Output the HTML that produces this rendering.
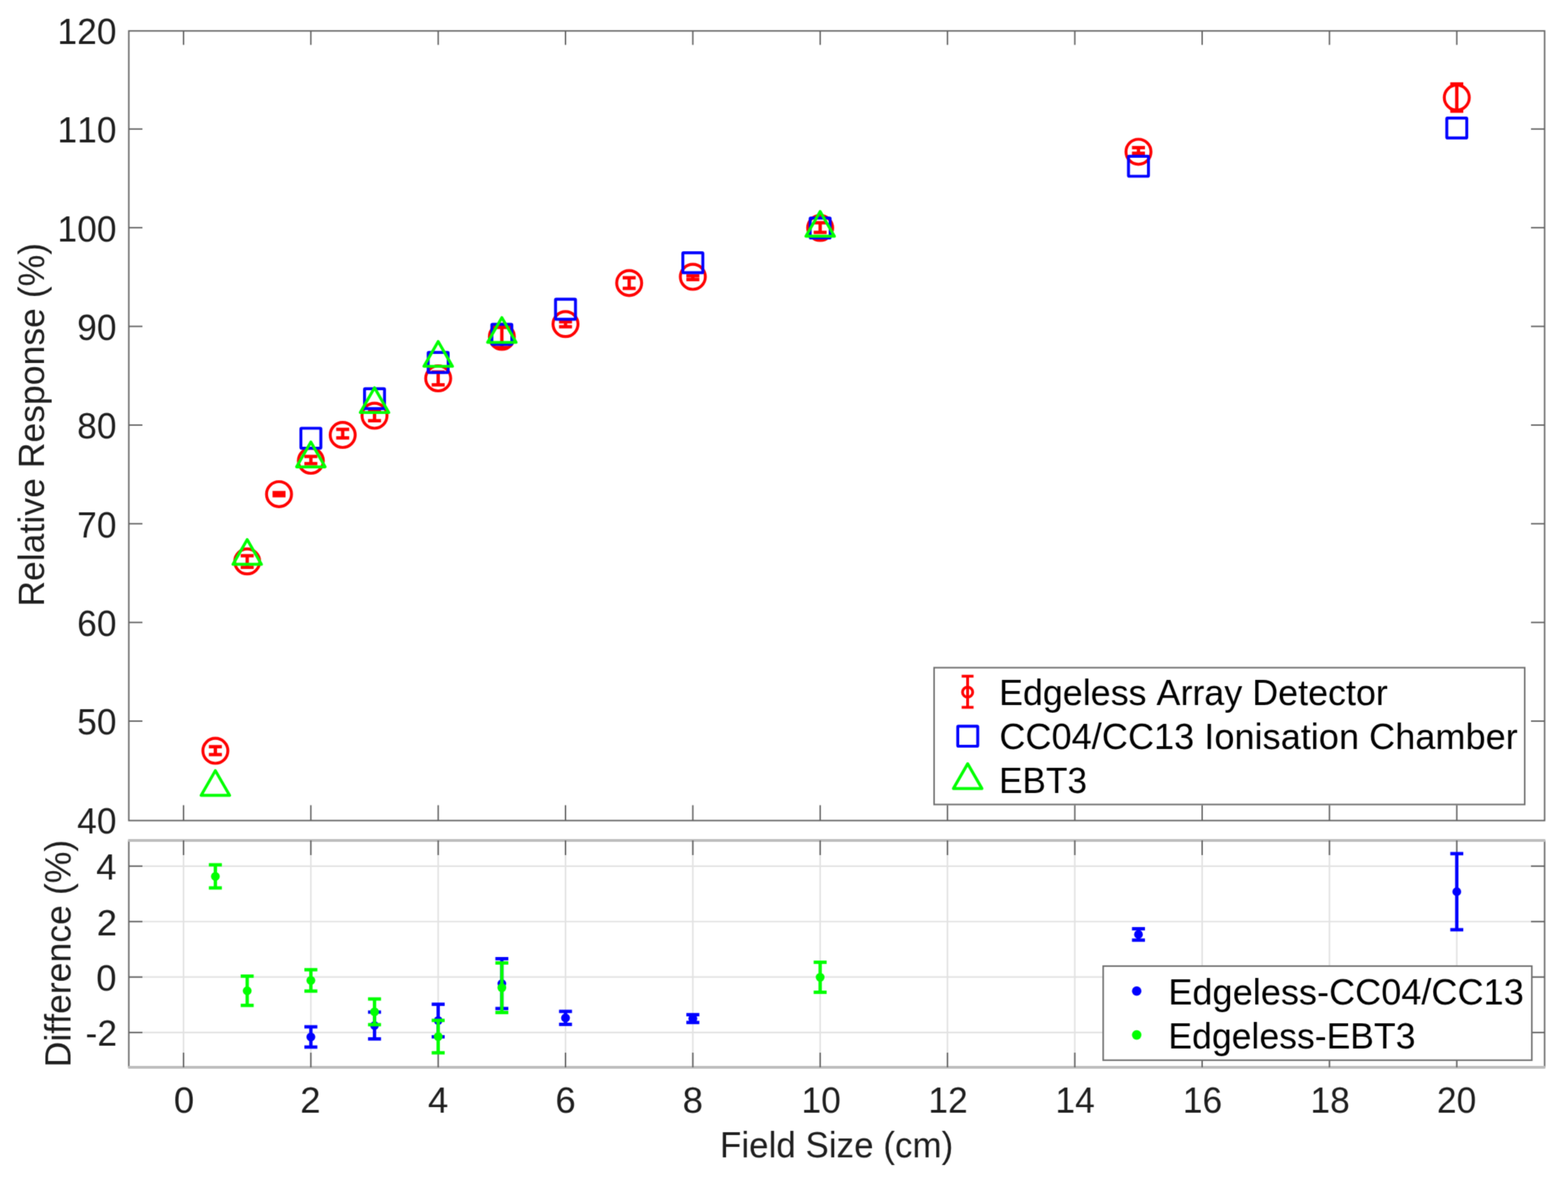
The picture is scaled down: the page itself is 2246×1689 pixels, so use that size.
<!DOCTYPE html>
<html lang="en">
<head>
<meta charset="utf-8">
<title>Relative Response vs Field Size</title>
<style>
html,body{margin:0;padding:0;background:#ffffff;}
body{width:2246px;height:1689px;overflow:hidden;}
svg{display:block;font-family:"Liberation Sans",sans-serif;font-kerning:none;}
text{font-kerning:none;white-space:pre;}
</style>
</head>
<body>
<svg width="2246" height="1689" viewBox="0 0 2246 1689">
<defs><filter id="soft" filterUnits="userSpaceOnUse" x="0" y="0" width="2246" height="1689" color-interpolation-filters="sRGB"><feConvolveMatrix order="3" kernelMatrix="0.02890 0.11220 0.02890 0.11220 0.43560 0.11220 0.02890 0.11220 0.02890" edgeMode="duplicate" preserveAlpha="true"/></filter></defs>
<g id="chart" filter="url(#soft)">
<rect x="-2" y="-2" width="2250" height="1693" fill="#ffffff"/>
<g id="lower-grid">
<line x1="262.90" y1="1204.00" x2="262.90" y2="1529.00" stroke="#e2e2e2" stroke-width="2.2" />
<line x1="445.28" y1="1204.00" x2="445.28" y2="1529.00" stroke="#e2e2e2" stroke-width="2.2" />
<line x1="627.66" y1="1204.00" x2="627.66" y2="1529.00" stroke="#e2e2e2" stroke-width="2.2" />
<line x1="810.04" y1="1204.00" x2="810.04" y2="1529.00" stroke="#e2e2e2" stroke-width="2.2" />
<line x1="992.42" y1="1204.00" x2="992.42" y2="1529.00" stroke="#e2e2e2" stroke-width="2.2" />
<line x1="1174.80" y1="1204.00" x2="1174.80" y2="1529.00" stroke="#e2e2e2" stroke-width="2.2" />
<line x1="1357.18" y1="1204.00" x2="1357.18" y2="1529.00" stroke="#e2e2e2" stroke-width="2.2" />
<line x1="1539.56" y1="1204.00" x2="1539.56" y2="1529.00" stroke="#e2e2e2" stroke-width="2.2" />
<line x1="1721.94" y1="1204.00" x2="1721.94" y2="1529.00" stroke="#e2e2e2" stroke-width="2.2" />
<line x1="1904.32" y1="1204.00" x2="1904.32" y2="1529.00" stroke="#e2e2e2" stroke-width="2.2" />
<line x1="2086.70" y1="1204.00" x2="2086.70" y2="1529.00" stroke="#e2e2e2" stroke-width="2.2" />
<line x1="184.50" y1="1240.78" x2="2212.50" y2="1240.78" stroke="#e2e2e2" stroke-width="2.2" />
<line x1="184.50" y1="1320.24" x2="2212.50" y2="1320.24" stroke="#e2e2e2" stroke-width="2.2" />
<line x1="184.50" y1="1399.70" x2="2212.50" y2="1399.70" stroke="#e2e2e2" stroke-width="2.2" />
<line x1="184.50" y1="1479.16" x2="2212.50" y2="1479.16" stroke="#e2e2e2" stroke-width="2.2" />
</g>
<g id="upper-axes">
<rect x="184.5" y="44.3" width="2028.0" height="1131.2" fill="none" stroke="#606060" stroke-width="2.0"/>
<line x1="262.90" y1="44.30" x2="262.90" y2="64.30" stroke="#606060" stroke-width="2.0" />
<line x1="262.90" y1="1175.50" x2="262.90" y2="1153.50" stroke="#606060" stroke-width="2.0" />
<line x1="445.28" y1="44.30" x2="445.28" y2="64.30" stroke="#606060" stroke-width="2.0" />
<line x1="445.28" y1="1175.50" x2="445.28" y2="1153.50" stroke="#606060" stroke-width="2.0" />
<line x1="627.66" y1="44.30" x2="627.66" y2="64.30" stroke="#606060" stroke-width="2.0" />
<line x1="627.66" y1="1175.50" x2="627.66" y2="1153.50" stroke="#606060" stroke-width="2.0" />
<line x1="810.04" y1="44.30" x2="810.04" y2="64.30" stroke="#606060" stroke-width="2.0" />
<line x1="810.04" y1="1175.50" x2="810.04" y2="1153.50" stroke="#606060" stroke-width="2.0" />
<line x1="992.42" y1="44.30" x2="992.42" y2="64.30" stroke="#606060" stroke-width="2.0" />
<line x1="992.42" y1="1175.50" x2="992.42" y2="1153.50" stroke="#606060" stroke-width="2.0" />
<line x1="1174.80" y1="44.30" x2="1174.80" y2="64.30" stroke="#606060" stroke-width="2.0" />
<line x1="1174.80" y1="1175.50" x2="1174.80" y2="1153.50" stroke="#606060" stroke-width="2.0" />
<line x1="1357.18" y1="44.30" x2="1357.18" y2="64.30" stroke="#606060" stroke-width="2.0" />
<line x1="1357.18" y1="1175.50" x2="1357.18" y2="1153.50" stroke="#606060" stroke-width="2.0" />
<line x1="1539.56" y1="44.30" x2="1539.56" y2="64.30" stroke="#606060" stroke-width="2.0" />
<line x1="1539.56" y1="1175.50" x2="1539.56" y2="1153.50" stroke="#606060" stroke-width="2.0" />
<line x1="1721.94" y1="44.30" x2="1721.94" y2="64.30" stroke="#606060" stroke-width="2.0" />
<line x1="1721.94" y1="1175.50" x2="1721.94" y2="1153.50" stroke="#606060" stroke-width="2.0" />
<line x1="1904.32" y1="44.30" x2="1904.32" y2="64.30" stroke="#606060" stroke-width="2.0" />
<line x1="1904.32" y1="1175.50" x2="1904.32" y2="1153.50" stroke="#606060" stroke-width="2.0" />
<line x1="2086.70" y1="44.30" x2="2086.70" y2="64.30" stroke="#606060" stroke-width="2.0" />
<line x1="2086.70" y1="1175.50" x2="2086.70" y2="1153.50" stroke="#606060" stroke-width="2.0" />
<line x1="184.50" y1="1033.05" x2="204.00" y2="1033.05" stroke="#606060" stroke-width="2.0" />
<line x1="2212.50" y1="1033.05" x2="2193.00" y2="1033.05" stroke="#606060" stroke-width="2.0" />
<line x1="184.50" y1="891.68" x2="204.00" y2="891.68" stroke="#606060" stroke-width="2.0" />
<line x1="2212.50" y1="891.68" x2="2193.00" y2="891.68" stroke="#606060" stroke-width="2.0" />
<line x1="184.50" y1="750.31" x2="204.00" y2="750.31" stroke="#606060" stroke-width="2.0" />
<line x1="2212.50" y1="750.31" x2="2193.00" y2="750.31" stroke="#606060" stroke-width="2.0" />
<line x1="184.50" y1="608.94" x2="204.00" y2="608.94" stroke="#606060" stroke-width="2.0" />
<line x1="2212.50" y1="608.94" x2="2193.00" y2="608.94" stroke="#606060" stroke-width="2.0" />
<line x1="184.50" y1="467.57" x2="204.00" y2="467.57" stroke="#606060" stroke-width="2.0" />
<line x1="2212.50" y1="467.57" x2="2193.00" y2="467.57" stroke="#606060" stroke-width="2.0" />
<line x1="184.50" y1="326.20" x2="204.00" y2="326.20" stroke="#606060" stroke-width="2.0" />
<line x1="2212.50" y1="326.20" x2="2193.00" y2="326.20" stroke="#606060" stroke-width="2.0" />
<line x1="184.50" y1="184.83" x2="204.00" y2="184.83" stroke="#606060" stroke-width="2.0" />
<line x1="2212.50" y1="184.83" x2="2193.00" y2="184.83" stroke="#606060" stroke-width="2.0" />
</g>
<g id="lower-axes">
<line x1="184.50" y1="1204.00" x2="184.50" y2="1529.00" stroke="#606060" stroke-width="2.0" />
<line x1="2212.50" y1="1204.00" x2="2212.50" y2="1529.00" stroke="#606060" stroke-width="2.0" />
<line x1="183.50" y1="1204.00" x2="2213.50" y2="1204.00" stroke="#bdbdbd" stroke-width="4.0" />
<line x1="183.50" y1="1529.00" x2="2213.50" y2="1529.00" stroke="#bdbdbd" stroke-width="4.0" />
<line x1="262.90" y1="1204.00" x2="262.90" y2="1225.00" stroke="#606060" stroke-width="2.0" />
<line x1="262.90" y1="1529.00" x2="262.90" y2="1508.00" stroke="#606060" stroke-width="2.0" />
<line x1="445.28" y1="1204.00" x2="445.28" y2="1225.00" stroke="#606060" stroke-width="2.0" />
<line x1="445.28" y1="1529.00" x2="445.28" y2="1508.00" stroke="#606060" stroke-width="2.0" />
<line x1="627.66" y1="1204.00" x2="627.66" y2="1225.00" stroke="#606060" stroke-width="2.0" />
<line x1="627.66" y1="1529.00" x2="627.66" y2="1508.00" stroke="#606060" stroke-width="2.0" />
<line x1="810.04" y1="1204.00" x2="810.04" y2="1225.00" stroke="#606060" stroke-width="2.0" />
<line x1="810.04" y1="1529.00" x2="810.04" y2="1508.00" stroke="#606060" stroke-width="2.0" />
<line x1="992.42" y1="1204.00" x2="992.42" y2="1225.00" stroke="#606060" stroke-width="2.0" />
<line x1="992.42" y1="1529.00" x2="992.42" y2="1508.00" stroke="#606060" stroke-width="2.0" />
<line x1="1174.80" y1="1204.00" x2="1174.80" y2="1225.00" stroke="#606060" stroke-width="2.0" />
<line x1="1174.80" y1="1529.00" x2="1174.80" y2="1508.00" stroke="#606060" stroke-width="2.0" />
<line x1="1357.18" y1="1204.00" x2="1357.18" y2="1225.00" stroke="#606060" stroke-width="2.0" />
<line x1="1357.18" y1="1529.00" x2="1357.18" y2="1508.00" stroke="#606060" stroke-width="2.0" />
<line x1="1539.56" y1="1204.00" x2="1539.56" y2="1225.00" stroke="#606060" stroke-width="2.0" />
<line x1="1539.56" y1="1529.00" x2="1539.56" y2="1508.00" stroke="#606060" stroke-width="2.0" />
<line x1="1721.94" y1="1204.00" x2="1721.94" y2="1225.00" stroke="#606060" stroke-width="2.0" />
<line x1="1721.94" y1="1529.00" x2="1721.94" y2="1508.00" stroke="#606060" stroke-width="2.0" />
<line x1="1904.32" y1="1204.00" x2="1904.32" y2="1225.00" stroke="#606060" stroke-width="2.0" />
<line x1="1904.32" y1="1529.00" x2="1904.32" y2="1508.00" stroke="#606060" stroke-width="2.0" />
<line x1="2086.70" y1="1204.00" x2="2086.70" y2="1225.00" stroke="#606060" stroke-width="2.0" />
<line x1="2086.70" y1="1529.00" x2="2086.70" y2="1508.00" stroke="#606060" stroke-width="2.0" />
<line x1="184.50" y1="1240.78" x2="204.00" y2="1240.78" stroke="#606060" stroke-width="2.0" />
<line x1="2212.50" y1="1240.78" x2="2193.00" y2="1240.78" stroke="#606060" stroke-width="2.0" />
<line x1="184.50" y1="1320.24" x2="204.00" y2="1320.24" stroke="#606060" stroke-width="2.0" />
<line x1="2212.50" y1="1320.24" x2="2193.00" y2="1320.24" stroke="#606060" stroke-width="2.0" />
<line x1="184.50" y1="1399.70" x2="204.00" y2="1399.70" stroke="#606060" stroke-width="2.0" />
<line x1="2212.50" y1="1399.70" x2="2193.00" y2="1399.70" stroke="#606060" stroke-width="2.0" />
<line x1="184.50" y1="1479.16" x2="204.00" y2="1479.16" stroke="#606060" stroke-width="2.0" />
<line x1="2212.50" y1="1479.16" x2="2193.00" y2="1479.16" stroke="#606060" stroke-width="2.0" />
</g>
<g id="tick-labels">
<text x="110.51" y="1193.72" font-size="52.5" textLength="56.35" lengthAdjust="spacingAndGlyphs" fill="#1e1e1e">40</text>
<text x="110.51" y="1052.35" font-size="52.5" textLength="56.35" lengthAdjust="spacingAndGlyphs" fill="#1e1e1e">50</text>
<text x="110.51" y="910.98" font-size="52.5" textLength="56.35" lengthAdjust="spacingAndGlyphs" fill="#1e1e1e">60</text>
<text x="110.51" y="769.61" font-size="52.5" textLength="56.35" lengthAdjust="spacingAndGlyphs" fill="#1e1e1e">70</text>
<text x="110.51" y="628.24" font-size="52.5" textLength="56.35" lengthAdjust="spacingAndGlyphs" fill="#1e1e1e">80</text>
<text x="110.51" y="486.87" font-size="52.5" textLength="56.35" lengthAdjust="spacingAndGlyphs" fill="#1e1e1e">90</text>
<text x="82.33" y="345.50" font-size="52.5" textLength="84.53" lengthAdjust="spacingAndGlyphs" fill="#1e1e1e">100</text>
<text x="82.33" y="204.13" font-size="52.5" textLength="84.53" lengthAdjust="spacingAndGlyphs" fill="#1e1e1e">110</text>
<text x="82.33" y="62.76" font-size="52.5" textLength="84.53" lengthAdjust="spacingAndGlyphs" fill="#1e1e1e">120</text>
<text x="137.71" y="1260.08" font-size="52.5" textLength="29.20" lengthAdjust="spacingAndGlyphs" fill="#1e1e1e">4</text>
<text x="138.53" y="1339.54" font-size="52.5" textLength="29.20" lengthAdjust="spacingAndGlyphs" fill="#1e1e1e">2</text>
<text x="137.71" y="1419.00" font-size="52.5" textLength="29.20" lengthAdjust="spacingAndGlyphs" fill="#1e1e1e">0</text>
<text x="122.61" y="1498.46" font-size="52.5" textLength="45.05" lengthAdjust="spacingAndGlyphs" fill="#1e1e1e">-2</text>
<text x="249.03" y="1593.80" font-size="52.5" textLength="29.20" lengthAdjust="spacingAndGlyphs" fill="#1e1e1e">0</text>
<text x="429.93" y="1593.80" font-size="52.5" textLength="29.20" lengthAdjust="spacingAndGlyphs" fill="#1e1e1e">2</text>
<text x="613.04" y="1593.80" font-size="52.5" textLength="29.20" lengthAdjust="spacingAndGlyphs" fill="#1e1e1e">4</text>
<text x="795.43" y="1593.80" font-size="52.5" textLength="29.20" lengthAdjust="spacingAndGlyphs" fill="#1e1e1e">6</text>
<text x="977.64" y="1593.80" font-size="52.5" textLength="29.20" lengthAdjust="spacingAndGlyphs" fill="#1e1e1e">8</text>
<text x="1147.97" y="1593.80" font-size="52.5" textLength="56.35" lengthAdjust="spacingAndGlyphs" fill="#1e1e1e">10</text>
<text x="1329.87" y="1593.80" font-size="52.5" textLength="56.35" lengthAdjust="spacingAndGlyphs" fill="#1e1e1e">12</text>
<text x="1511.87" y="1593.80" font-size="52.5" textLength="56.35" lengthAdjust="spacingAndGlyphs" fill="#1e1e1e">14</text>
<text x="1694.37" y="1593.80" font-size="52.5" textLength="56.35" lengthAdjust="spacingAndGlyphs" fill="#1e1e1e">16</text>
<text x="1877.07" y="1593.80" font-size="52.5" textLength="56.35" lengthAdjust="spacingAndGlyphs" fill="#1e1e1e">18</text>
<text x="2058.27" y="1593.80" font-size="52.5" textLength="56.35" lengthAdjust="spacingAndGlyphs" fill="#1e1e1e">20</text>
</g>
<g id="axis-labels">
<text x="1031.29" y="1658.00" font-size="52.5" textLength="334.11" lengthAdjust="spacingAndGlyphs" fill="#1e1e1e">Field Size (cm)</text>
<text transform="translate(63.30,869.08) rotate(-90)" font-size="52.5" textLength="521.02" lengthAdjust="spacingAndGlyphs" fill="#1e1e1e">Relative Response (%)</text>
<text transform="translate(100.60,1529.09) rotate(-90)" font-size="52.5" textLength="326.13" lengthAdjust="spacingAndGlyphs" fill="#1e1e1e">Difference (%)</text>
</g>
<g id="upper-data">
<line x1="308.50" y1="1069.70" x2="308.50" y2="1081.00" stroke="#ff0000" stroke-width="4.8" />
<line x1="299.19" y1="1069.70" x2="317.80" y2="1069.70" stroke="#ff0000" stroke-width="4.8" />
<line x1="299.19" y1="1081.00" x2="317.80" y2="1081.00" stroke="#ff0000" stroke-width="4.8" />
<circle cx="308.50" cy="1075.60" r="17.9" fill="none" stroke="#ff0000" stroke-width="4.2"/>
<line x1="354.09" y1="796.10" x2="354.09" y2="812.70" stroke="#ff0000" stroke-width="4.8" />
<line x1="344.79" y1="796.10" x2="363.39" y2="796.10" stroke="#ff0000" stroke-width="4.8" />
<line x1="344.79" y1="812.70" x2="363.39" y2="812.70" stroke="#ff0000" stroke-width="4.8" />
<circle cx="354.09" cy="804.30" r="17.9" fill="none" stroke="#ff0000" stroke-width="4.2"/>
<line x1="399.68" y1="705.70" x2="399.68" y2="710.10" stroke="#ff0000" stroke-width="4.8" />
<line x1="390.38" y1="705.70" x2="408.98" y2="705.70" stroke="#ff0000" stroke-width="4.8" />
<line x1="390.38" y1="710.10" x2="408.98" y2="710.10" stroke="#ff0000" stroke-width="4.8" />
<circle cx="399.68" cy="707.90" r="17.9" fill="none" stroke="#ff0000" stroke-width="4.2"/>
<line x1="445.28" y1="653.90" x2="445.28" y2="664.20" stroke="#ff0000" stroke-width="4.8" />
<line x1="435.98" y1="653.90" x2="454.58" y2="653.90" stroke="#ff0000" stroke-width="4.8" />
<line x1="435.98" y1="664.20" x2="454.58" y2="664.20" stroke="#ff0000" stroke-width="4.8" />
<circle cx="445.28" cy="660.10" r="17.9" fill="none" stroke="#ff0000" stroke-width="4.2"/>
<line x1="490.88" y1="615.10" x2="490.88" y2="627.30" stroke="#ff0000" stroke-width="4.8" />
<line x1="481.57" y1="615.10" x2="500.18" y2="615.10" stroke="#ff0000" stroke-width="4.8" />
<line x1="481.57" y1="627.30" x2="500.18" y2="627.30" stroke="#ff0000" stroke-width="4.8" />
<circle cx="490.88" cy="623.10" r="17.9" fill="none" stroke="#ff0000" stroke-width="4.2"/>
<line x1="536.47" y1="588.30" x2="536.47" y2="602.70" stroke="#ff0000" stroke-width="4.8" />
<line x1="527.17" y1="588.30" x2="545.77" y2="588.30" stroke="#ff0000" stroke-width="4.8" />
<line x1="527.17" y1="602.70" x2="545.77" y2="602.70" stroke="#ff0000" stroke-width="4.8" />
<circle cx="536.47" cy="595.60" r="17.9" fill="none" stroke="#ff0000" stroke-width="4.2"/>
<line x1="627.66" y1="532.90" x2="627.66" y2="551.30" stroke="#ff0000" stroke-width="4.8" />
<line x1="618.36" y1="532.90" x2="636.96" y2="532.90" stroke="#ff0000" stroke-width="4.8" />
<line x1="618.36" y1="551.30" x2="636.96" y2="551.30" stroke="#ff0000" stroke-width="4.8" />
<circle cx="627.66" cy="542.10" r="17.9" fill="none" stroke="#ff0000" stroke-width="4.2"/>
<line x1="718.85" y1="469.00" x2="718.85" y2="497.80" stroke="#ff0000" stroke-width="4.8" />
<line x1="709.55" y1="469.00" x2="728.15" y2="469.00" stroke="#ff0000" stroke-width="4.8" />
<line x1="709.55" y1="497.80" x2="728.15" y2="497.80" stroke="#ff0000" stroke-width="4.8" />
<circle cx="718.85" cy="482.50" r="17.9" fill="none" stroke="#ff0000" stroke-width="4.2"/>
<line x1="810.04" y1="461.00" x2="810.04" y2="468.10" stroke="#ff0000" stroke-width="4.8" />
<line x1="800.74" y1="461.00" x2="819.34" y2="461.00" stroke="#ff0000" stroke-width="4.8" />
<line x1="800.74" y1="468.10" x2="819.34" y2="468.10" stroke="#ff0000" stroke-width="4.8" />
<circle cx="810.04" cy="464.30" r="17.9" fill="none" stroke="#ff0000" stroke-width="4.2"/>
<line x1="901.23" y1="397.90" x2="901.23" y2="413.10" stroke="#ff0000" stroke-width="4.8" />
<line x1="891.93" y1="397.90" x2="910.53" y2="397.90" stroke="#ff0000" stroke-width="4.8" />
<line x1="891.93" y1="413.10" x2="910.53" y2="413.10" stroke="#ff0000" stroke-width="4.8" />
<circle cx="901.23" cy="405.45" r="17.9" fill="none" stroke="#ff0000" stroke-width="4.2"/>
<line x1="992.42" y1="395.20" x2="992.42" y2="400.50" stroke="#ff0000" stroke-width="4.8" />
<line x1="983.12" y1="395.20" x2="1001.72" y2="395.20" stroke="#ff0000" stroke-width="4.8" />
<line x1="983.12" y1="400.50" x2="1001.72" y2="400.50" stroke="#ff0000" stroke-width="4.8" />
<circle cx="992.42" cy="396.60" r="17.9" fill="none" stroke="#ff0000" stroke-width="4.2"/>
<line x1="1174.80" y1="319.10" x2="1174.80" y2="332.90" stroke="#ff0000" stroke-width="4.8" />
<line x1="1165.50" y1="319.10" x2="1184.10" y2="319.10" stroke="#ff0000" stroke-width="4.8" />
<line x1="1165.50" y1="332.90" x2="1184.10" y2="332.90" stroke="#ff0000" stroke-width="4.8" />
<circle cx="1174.80" cy="326.60" r="17.9" fill="none" stroke="#ff0000" stroke-width="4.2"/>
<line x1="1630.75" y1="211.50" x2="1630.75" y2="219.60" stroke="#ff0000" stroke-width="4.8" />
<line x1="1621.45" y1="211.50" x2="1640.05" y2="211.50" stroke="#ff0000" stroke-width="4.8" />
<line x1="1621.45" y1="219.60" x2="1640.05" y2="219.60" stroke="#ff0000" stroke-width="4.8" />
<circle cx="1630.75" cy="217.40" r="17.9" fill="none" stroke="#ff0000" stroke-width="4.2"/>
<line x1="2086.70" y1="120.30" x2="2086.70" y2="159.20" stroke="#ff0000" stroke-width="4.8" />
<line x1="2077.40" y1="120.30" x2="2096.00" y2="120.30" stroke="#ff0000" stroke-width="4.8" />
<line x1="2077.40" y1="159.20" x2="2096.00" y2="159.20" stroke="#ff0000" stroke-width="4.8" />
<circle cx="2086.70" cy="139.80" r="17.9" fill="none" stroke="#ff0000" stroke-width="4.2"/>
<rect x="430.98" y="613.50" width="28.6" height="28.6" rx="1" fill="none" stroke="#0000ff" stroke-width="4.2" stroke-linejoin="round"/>
<rect x="522.17" y="556.80" width="28.6" height="28.6" rx="1" fill="none" stroke="#0000ff" stroke-width="4.2" stroke-linejoin="round"/>
<rect x="613.36" y="504.95" width="28.6" height="28.6" rx="1" fill="none" stroke="#0000ff" stroke-width="4.2" stroke-linejoin="round"/>
<rect x="704.55" y="464.70" width="28.6" height="28.6" rx="1" fill="none" stroke="#0000ff" stroke-width="4.2" stroke-linejoin="round"/>
<rect x="795.74" y="428.70" width="28.6" height="28.6" rx="1" fill="none" stroke="#0000ff" stroke-width="4.2" stroke-linejoin="round"/>
<rect x="978.12" y="362.05" width="28.6" height="28.6" rx="1" fill="none" stroke="#0000ff" stroke-width="4.2" stroke-linejoin="round"/>
<rect x="1160.50" y="312.35" width="28.6" height="28.6" rx="1" fill="none" stroke="#0000ff" stroke-width="4.2" stroke-linejoin="round"/>
<rect x="1616.45" y="223.90" width="28.6" height="28.6" rx="1" fill="none" stroke="#0000ff" stroke-width="4.2" stroke-linejoin="round"/>
<rect x="2072.40" y="169.10" width="28.6" height="28.6" rx="1" fill="none" stroke="#0000ff" stroke-width="4.2" stroke-linejoin="round"/>
<polygon points="308.50,1103.95 328.94,1139.45 288.05,1139.45" fill="none" stroke="#00ff00" stroke-width="4.2" stroke-linejoin="round"/>
<polygon points="354.09,772.95 374.54,808.45 333.64,808.45" fill="none" stroke="#00ff00" stroke-width="4.2" stroke-linejoin="round"/>
<polygon points="445.28,633.30 465.73,668.80 424.83,668.80" fill="none" stroke="#00ff00" stroke-width="4.2" stroke-linejoin="round"/>
<polygon points="536.47,555.50 556.92,591.00 516.02,591.00" fill="none" stroke="#00ff00" stroke-width="4.2" stroke-linejoin="round"/>
<polygon points="627.66,489.25 648.11,524.75 607.21,524.75" fill="none" stroke="#00ff00" stroke-width="4.2" stroke-linejoin="round"/>
<polygon points="718.85,455.00 739.30,490.50 698.40,490.50" fill="none" stroke="#00ff00" stroke-width="4.2" stroke-linejoin="round"/>
<polygon points="1174.80,302.95 1195.25,338.45 1154.35,338.45" fill="none" stroke="#00ff00" stroke-width="4.2" stroke-linejoin="round"/>
</g>
<g id="lower-data">
<line x1="445.28" y1="1471.00" x2="445.28" y2="1500.00" stroke="#0000ff" stroke-width="4.8" />
<line x1="435.98" y1="1471.00" x2="454.58" y2="1471.00" stroke="#0000ff" stroke-width="4.8" />
<line x1="435.98" y1="1500.00" x2="454.58" y2="1500.00" stroke="#0000ff" stroke-width="4.8" />
<circle cx="445.28" cy="1485.50" r="6.3" fill="#0000ff"/>
<line x1="536.47" y1="1449.90" x2="536.47" y2="1488.30" stroke="#0000ff" stroke-width="4.8" />
<line x1="527.17" y1="1449.90" x2="545.77" y2="1449.90" stroke="#0000ff" stroke-width="4.8" />
<line x1="527.17" y1="1488.30" x2="545.77" y2="1488.30" stroke="#0000ff" stroke-width="4.8" />
<circle cx="536.47" cy="1469.10" r="6.3" fill="#0000ff"/>
<line x1="627.66" y1="1438.70" x2="627.66" y2="1485.30" stroke="#0000ff" stroke-width="4.8" />
<line x1="618.36" y1="1438.70" x2="636.96" y2="1438.70" stroke="#0000ff" stroke-width="4.8" />
<line x1="618.36" y1="1485.30" x2="636.96" y2="1485.30" stroke="#0000ff" stroke-width="4.8" />
<circle cx="627.66" cy="1462.00" r="6.3" fill="#0000ff"/>
<line x1="718.85" y1="1373.40" x2="718.85" y2="1444.80" stroke="#0000ff" stroke-width="4.8" />
<line x1="709.55" y1="1373.40" x2="728.15" y2="1373.40" stroke="#0000ff" stroke-width="4.8" />
<line x1="709.55" y1="1444.80" x2="728.15" y2="1444.80" stroke="#0000ff" stroke-width="4.8" />
<circle cx="718.85" cy="1409.10" r="6.3" fill="#0000ff"/>
<line x1="810.04" y1="1448.90" x2="810.04" y2="1467.50" stroke="#0000ff" stroke-width="4.8" />
<line x1="800.74" y1="1448.90" x2="819.34" y2="1448.90" stroke="#0000ff" stroke-width="4.8" />
<line x1="800.74" y1="1467.50" x2="819.34" y2="1467.50" stroke="#0000ff" stroke-width="4.8" />
<circle cx="810.04" cy="1458.20" r="6.3" fill="#0000ff"/>
<line x1="992.42" y1="1453.60" x2="992.42" y2="1464.80" stroke="#0000ff" stroke-width="4.8" />
<line x1="983.12" y1="1453.60" x2="1001.72" y2="1453.60" stroke="#0000ff" stroke-width="4.8" />
<line x1="983.12" y1="1464.80" x2="1001.72" y2="1464.80" stroke="#0000ff" stroke-width="4.8" />
<circle cx="992.42" cy="1459.20" r="6.3" fill="#0000ff"/>
<line x1="1630.75" y1="1330.50" x2="1630.75" y2="1346.80" stroke="#0000ff" stroke-width="4.8" />
<line x1="1621.45" y1="1330.50" x2="1640.05" y2="1330.50" stroke="#0000ff" stroke-width="4.8" />
<line x1="1621.45" y1="1346.80" x2="1640.05" y2="1346.80" stroke="#0000ff" stroke-width="4.8" />
<circle cx="1630.75" cy="1338.65" r="6.3" fill="#0000ff"/>
<line x1="2086.70" y1="1222.90" x2="2086.70" y2="1331.90" stroke="#0000ff" stroke-width="4.8" />
<line x1="2077.40" y1="1222.90" x2="2096.00" y2="1222.90" stroke="#0000ff" stroke-width="4.8" />
<line x1="2077.40" y1="1331.90" x2="2096.00" y2="1331.90" stroke="#0000ff" stroke-width="4.8" />
<circle cx="2086.70" cy="1277.40" r="6.3" fill="#0000ff"/>
<line x1="308.50" y1="1238.90" x2="308.50" y2="1272.00" stroke="#00ff00" stroke-width="4.8" />
<line x1="299.19" y1="1238.90" x2="317.80" y2="1238.90" stroke="#00ff00" stroke-width="4.8" />
<line x1="299.19" y1="1272.00" x2="317.80" y2="1272.00" stroke="#00ff00" stroke-width="4.8" />
<circle cx="308.50" cy="1255.45" r="6.3" fill="#00ff00"/>
<line x1="354.09" y1="1398.40" x2="354.09" y2="1440.30" stroke="#00ff00" stroke-width="4.8" />
<line x1="344.79" y1="1398.40" x2="363.39" y2="1398.40" stroke="#00ff00" stroke-width="4.8" />
<line x1="344.79" y1="1440.30" x2="363.39" y2="1440.30" stroke="#00ff00" stroke-width="4.8" />
<circle cx="354.09" cy="1419.35" r="6.3" fill="#00ff00"/>
<line x1="445.28" y1="1389.20" x2="445.28" y2="1419.80" stroke="#00ff00" stroke-width="4.8" />
<line x1="435.98" y1="1389.20" x2="454.58" y2="1389.20" stroke="#00ff00" stroke-width="4.8" />
<line x1="435.98" y1="1419.80" x2="454.58" y2="1419.80" stroke="#00ff00" stroke-width="4.8" />
<circle cx="445.28" cy="1404.50" r="6.3" fill="#00ff00"/>
<line x1="536.47" y1="1431.10" x2="536.47" y2="1467.90" stroke="#00ff00" stroke-width="4.8" />
<line x1="527.17" y1="1431.10" x2="545.77" y2="1431.10" stroke="#00ff00" stroke-width="4.8" />
<line x1="527.17" y1="1467.90" x2="545.77" y2="1467.90" stroke="#00ff00" stroke-width="4.8" />
<circle cx="536.47" cy="1449.50" r="6.3" fill="#00ff00"/>
<line x1="627.66" y1="1461.80" x2="627.66" y2="1508.20" stroke="#00ff00" stroke-width="4.8" />
<line x1="618.36" y1="1461.80" x2="636.96" y2="1461.80" stroke="#00ff00" stroke-width="4.8" />
<line x1="618.36" y1="1508.20" x2="636.96" y2="1508.20" stroke="#00ff00" stroke-width="4.8" />
<circle cx="627.66" cy="1485.00" r="6.3" fill="#00ff00"/>
<line x1="718.85" y1="1379.50" x2="718.85" y2="1450.50" stroke="#00ff00" stroke-width="4.8" />
<line x1="709.55" y1="1379.50" x2="728.15" y2="1379.50" stroke="#00ff00" stroke-width="4.8" />
<line x1="709.55" y1="1450.50" x2="728.15" y2="1450.50" stroke="#00ff00" stroke-width="4.8" />
<circle cx="718.85" cy="1415.00" r="6.3" fill="#00ff00"/>
<line x1="1174.80" y1="1378.50" x2="1174.80" y2="1421.50" stroke="#00ff00" stroke-width="4.8" />
<line x1="1165.50" y1="1378.50" x2="1184.10" y2="1378.50" stroke="#00ff00" stroke-width="4.8" />
<line x1="1165.50" y1="1421.50" x2="1184.10" y2="1421.50" stroke="#00ff00" stroke-width="4.8" />
<circle cx="1174.80" cy="1400.00" r="6.3" fill="#00ff00"/>
</g>
<g id="upper-legend">
<rect x="1338" y="956.5" width="846" height="196" fill="#ffffff" stroke="#6e6e6e" stroke-width="2.2"/>
<line x1="1386.00" y1="968.70" x2="1386.00" y2="1013.30" stroke="#ff0000" stroke-width="4" />
<line x1="1377.50" y1="968.70" x2="1394.50" y2="968.70" stroke="#ff0000" stroke-width="4" />
<line x1="1377.50" y1="1013.30" x2="1394.50" y2="1013.30" stroke="#ff0000" stroke-width="4" />
<circle cx="1386.00" cy="991.50" r="7.3" fill="none" stroke="#ff0000" stroke-width="4"/>
<rect x="1371.90" y="1040.40" width="28.6" height="28.6" rx="1" fill="none" stroke="#0000ff" stroke-width="4.2" stroke-linejoin="round"/>
<polygon points="1386.10,1094.15 1406.55,1129.65 1365.65,1129.65" fill="none" stroke="#00ff00" stroke-width="4.2" stroke-linejoin="round"/>
<text x="1430.88" y="1010.30" font-size="52.5" textLength="557.07" lengthAdjust="spacingAndGlyphs" fill="#000000">Edgeless Array Detector</text>
<text x="1431.47" y="1073.40" font-size="52.5" textLength="742.58" lengthAdjust="spacingAndGlyphs" fill="#000000">CC04/CC13 Ionisation Chamber</text>
<text x="1430.96" y="1136.20" font-size="52.5" textLength="126.08" lengthAdjust="spacingAndGlyphs" fill="#000000">EBT3</text>
</g>
<g id="lower-legend">
<rect x="1580.2" y="1384" width="614" height="134.8" fill="#ffffff" stroke="#6e6e6e" stroke-width="2.2"/>
<circle cx="1628.20" cy="1419.70" r="6.8" fill="#0000ff"/>
<circle cx="1628.20" cy="1482.60" r="6.8" fill="#00ff00"/>
<text x="1673.56" y="1438.90" font-size="52.5" textLength="509.14" lengthAdjust="spacingAndGlyphs" fill="#000000">Edgeless-CC04/CC13</text>
<text x="1673.62" y="1501.50" font-size="52.5" textLength="353.94" lengthAdjust="spacingAndGlyphs" fill="#000000">Edgeless-EBT3</text>
</g>
</g>
</svg>
</body>
</html>
